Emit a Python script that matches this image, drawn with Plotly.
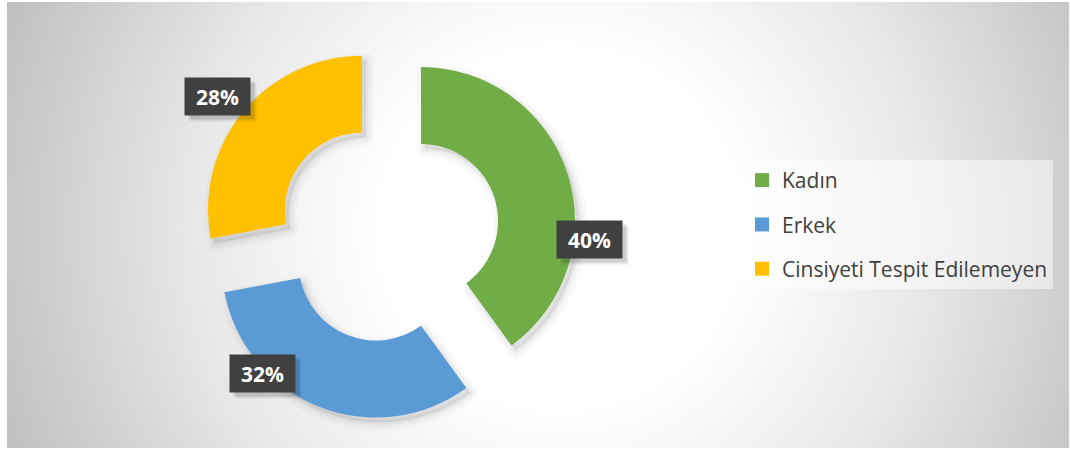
import numpy as np
import plotly.graph_objects as go

# ---- data ----
categories = ["Kadın", "Erkek", "Cinsiyeti Tespit Edilemeyen"]
values = [40, 32, 28]
colors = ["#70AD47", "#5B9BD5", "#FFC000"]

# ---- layout constants (pixels) ----
W, H = 1070, 450
ML, MR, MT, MB = 7, 0, 2, 2
PW, PH = W - ML - MR, H - MT - MB


def px(x):
    return (x - ML) / PW


def py(y):
    return (H - MB - y) / PH


# donut geometry
CX, CY, R, PULL, HOLE = 388.4, 231.6, 154, 0.2227, 0.5
half = R * (1 + PULL)
dom_x = [px(CX - half), px(CX + half)]
dom_y = [py(CY + half), py(CY - half)]

# label box centres (pixels)
label_pos = [(589, 239), (262, 373), (217, 96)]

# ---- background radial gradient ----
gx = np.arange(0, PW + 1, 4)
gy = np.arange(0, PH + 1, 4)
X, Y = np.meshgrid(gx, gy)
cxg, cyg = 560 - ML, 228 - MT
dist = np.sqrt((X - cxg) ** 2 + (Y - cyg) ** 2)
dist = dist / dist.max()

fig = go.Figure()
fig.add_trace(go.Heatmap(
    x=gx, y=gy, z=dist, zmin=0, zmax=1, zsmooth="best",
    colorscale=[[0, "#ffffff"], [0.3, "#ffffff"], [0.6, "#e9e9e9"], [1, "#bfbfbf"]],
    showscale=False, hoverinfo="skip",
))

# soft shadows behind slices
for lw, a in [(16, 0.02), (10, 0.025), (5, 0.035)]:
    fig.add_trace(go.Pie(
        labels=categories, values=values, sort=False, direction="clockwise",
        rotation=0, hole=HOLE, pull=PULL,
        domain=dict(x=[d + 4 / PW for d in dom_x], y=[d - 5 / PH for d in dom_y]),
        marker=dict(colors=[f"rgba(0,0,0,{a})"] * 3,
                    line=dict(color=f"rgba(0,0,0,{a})", width=lw)),
        textinfo="none", hoverinfo="skip", showlegend=False,
    ))

fig.add_trace(go.Pie(
    labels=categories, values=values, sort=False, direction="clockwise",
    rotation=0, hole=HOLE, pull=PULL,
    domain=dict(x=dom_x, y=dom_y),
    marker=dict(colors=colors, line=dict(width=0)),
    textinfo="none", showlegend=False,
))

# legend entries
for i, (c, col) in enumerate(zip(categories, colors)):
    fig.add_trace(go.Scatter(
        x=[None], y=[None], mode="markers", name=c, legendgroup=f"g{i}",
        marker=dict(symbol="square", size=14, color=col),
    ))

total = sum(values)
annotations = []
for (lx, ly), v in zip(label_pos, values):
    pct = f"{round(v / total * 100)}%"
    common = dict(x=px(lx), y=py(ly), xref="paper", yref="paper",
                  xanchor="center", yanchor="middle", showarrow=False,
                  width=63, height=35)
    for sh, a in [(6, 0.08), (4, 0.12)]:
        annotations.append(dict(common, text="", bgcolor=f"rgba(0,0,0,{a})",
                                xshift=sh, yshift=-sh))
    annotations.append(dict(
        common, text=f"<b>{pct}</b>", bgcolor="#404040",
        font=dict(family="Open Sans", size=21, color="#ffffff"),
    ))

fig.update_layout(
    width=W, height=H,
    margin=dict(l=ML, r=MR, t=MT, b=MB),
    paper_bgcolor="#ffffff", plot_bgcolor="#ffffff",
    xaxis=dict(range=[0, PW], visible=False, fixedrange=True),
    yaxis=dict(range=[PH, 0], visible=False, fixedrange=True),
    showlegend=True,
    legend=dict(
        x=px(742), y=py(160), xanchor="left", yanchor="top",
        bgcolor="rgba(255,255,255,0.5)", borderwidth=0,
        font=dict(family="Open Sans", size=21, color="#404040"),
        tracegroupgap=14, itemsizing="trace",
    ),
    annotations=annotations,
)

fig.write_html("out.html", config={"displayModeBar": False},
               post_script="document.body.style.margin='0';")
